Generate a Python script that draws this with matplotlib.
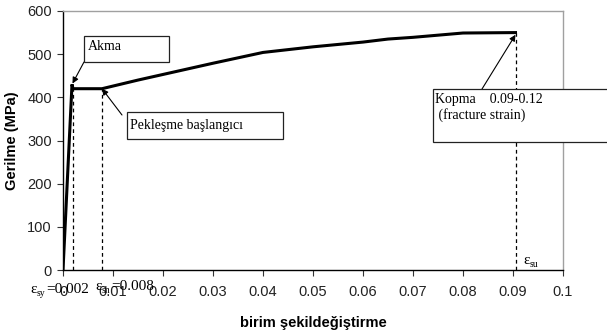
import matplotlib.pyplot as plt

# stress-strain curve
strain = [0, 0.0018, 0.002, 0.0078, 0.015, 0.02, 0.03, 0.04, 0.05, 0.06, 0.065, 0.07, 0.08, 0.0905]
stress = [0, 430, 420, 420, 440, 453, 479, 504, 517, 528, 535, 539, 549, 550]

eps_sy = 0.002
eps_sh = 0.0078
eps_su = 0.0905
f_y = 420
f_u = 550

xticks = [0, 0.01, 0.02, 0.03, 0.04, 0.05, 0.06, 0.07, 0.08, 0.09, 0.1]
xticklabels = ['0', '0.01', '0.02', '0.03', '0.04', '0.05', '0.06', '0.07', '0.08', '0.09', '0.1']
yticks = [0, 100, 200, 300, 400, 500, 600]

serif = 'Liberation Serif'
sans = 'Liberation Sans'

fig = plt.figure(figsize=(6.07, 3.31), dpi=100)
ax = fig.add_axes([63 / 607, 1 - 270 / 331, 500 / 607, 259 / 331])

ax.plot(strain, stress, color='black', lw=2.2, solid_joinstyle='miter', zorder=3)

# dashed guide lines
ax.plot([eps_sy, eps_sy], [0, f_y], color='black', lw=0.9, ls=(0, (3, 2.5)))
ax.plot([eps_sh, eps_sh], [0, f_y], color='black', lw=0.9, ls=(0, (3, 2.5)))
ax.plot([eps_su, eps_su], [0, f_u], color='black', lw=0.9, ls=(0, (3, 2.5)))

ax.set_xlim(0, 0.1)
ax.set_ylim(0, 600)
ax.set_xticks(xticks)
ax.set_xticklabels(xticklabels)
ax.set_yticks(yticks)
for lab in ax.get_xticklabels() + ax.get_yticklabels():
    lab.set_family(sans)
    lab.set_fontsize(10.5)
    lab.set_color('#222222')
ax.tick_params(direction='out', length=4, width=0.8, color='#333333', pad=4)
ax.tick_params(axis='x', pad=7)

for s in ('top', 'right'):
    ax.spines[s].set_color('#a0a0a0')
    ax.spines[s].set_linewidth(1.0)
for s in ('left', 'bottom'):
    ax.spines[s].set_color('black')
    ax.spines[s].set_linewidth(1.0)

ax.set_xlabel('birim şekildeğiştirme', family=sans, fontweight='bold', fontsize=10.5, labelpad=12)
ax.set_ylabel('Gerilme (MPa)', family=sans, fontweight='bold', fontsize=10.5, labelpad=6)

# annotation boxes (figure pixel coords -> fraction)
def px(x, y):
    return (x / 607, 1 - y / 331)

box_kw = dict(facecolor='white', edgecolor='#222222', linewidth=0.9)
arrow_kw = dict(arrowstyle='-|>', color='black', lw=0.8, mutation_scale=9, shrinkA=0, shrinkB=0)

fig.patches.append(plt.Rectangle(px(84, 62), 85 / 607, 26 / 331, transform=fig.transFigure, **box_kw))
fig.text(*px(88, 46), 'Akma', family=serif, fontsize=10, va='center', ha='left')
ax.annotate('', xy=(0.0019, 432), xytext=px(84, 62), textcoords='figure fraction',
            arrowprops=arrow_kw)

fig.patches.append(plt.Rectangle(px(127, 139), 156 / 607, 27 / 331, transform=fig.transFigure, **box_kw))
fig.text(*px(130, 125), 'Pekleşme başlangıcı', family=serif, fontsize=10, va='center', ha='left')
ax.annotate('', xy=(eps_sh, f_y), xytext=px(122, 115), textcoords='figure fraction',
            arrowprops=arrow_kw)

fig.patches.append(plt.Rectangle(px(433, 142), 180 / 607, 53 / 331, transform=fig.transFigure, **box_kw))
fig.text(*px(435, 99), 'Kopma    0.09-0.12', family=serif, fontsize=10, va='center', ha='left')
fig.text(*px(435, 115), ' (fracture strain)', family=serif, fontsize=10, va='center', ha='left')
ax.annotate('', xy=(eps_su, f_u - 5), xytext=px(482, 89), textcoords='figure fraction',
            arrowprops=arrow_kw)

# strain labels: upright epsilon with small subscript
def eps_label(x, y, sub, rest=''):
    fig.text(*px(x, y), 'ε', family=serif, fontsize=11, va='baseline', ha='left')
    fig.text(*px(x + 7, y + 3), sub, family=serif, fontsize=7, va='baseline', ha='left')
    if rest:
        fig.text(*px(x + 7 + 4.5 * len(sub), y), rest, family=serif, fontsize=11, va='baseline', ha='left')

eps_label(30, 293, 'sy', '=0.002')
eps_label(95, 290, 'sh', '=0.008')
eps_label(523, 264, 'su')

fig.savefig('out.png', dpi=100)
